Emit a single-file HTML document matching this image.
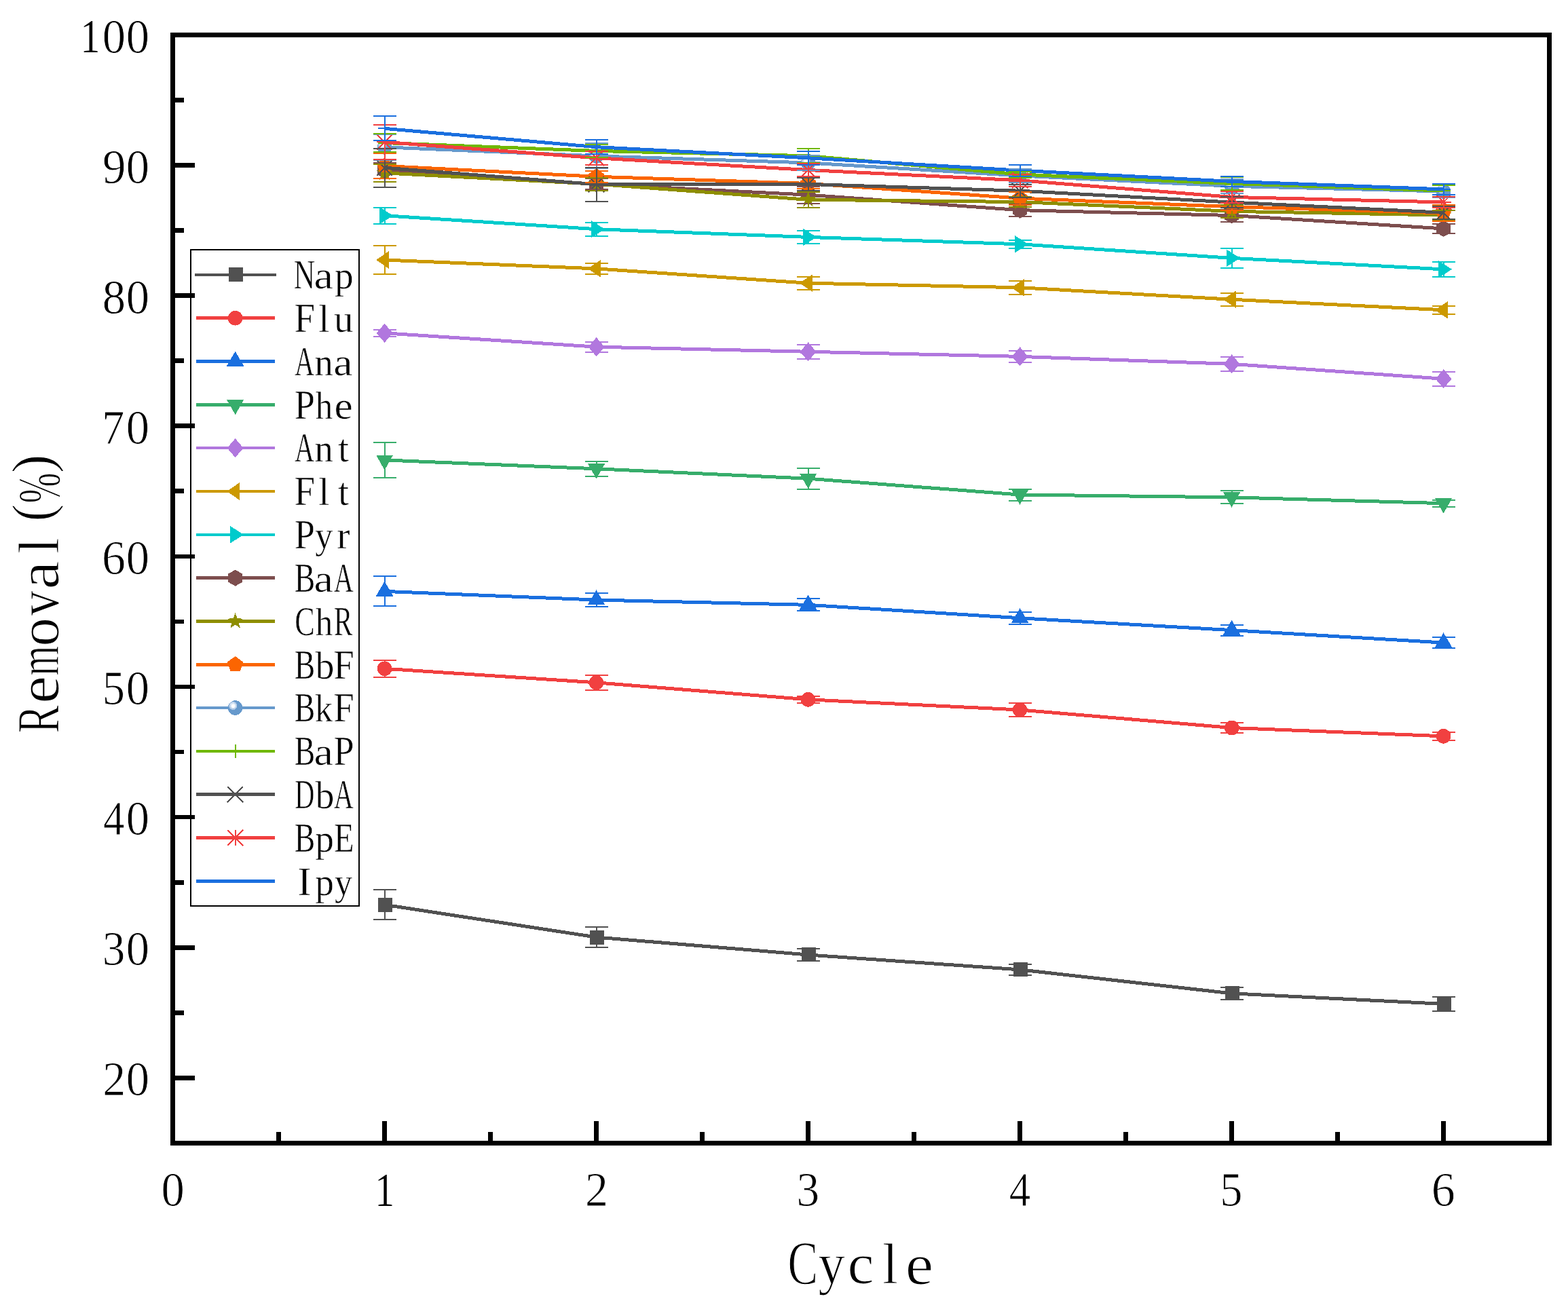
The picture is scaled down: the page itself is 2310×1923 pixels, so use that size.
<!DOCTYPE html>
<html><head><meta charset="utf-8"><title>Removal vs Cycle</title>
<style>html,body{margin:0;padding:0;background:#fff;overflow:hidden;}svg{display:block;}text{font-family:"Liberation Serif","Noto Serif CJK SC",serif;fill:#000;}</style></head><body>
<svg width="2310" height="1923" viewBox="0 0 2310 1923">
<rect width="2310" height="1923" fill="#fff"/>
<g shape-rendering="crispEdges">
<g><polyline points="566.6,1333.21 878.6,1381.04 1190.6,1406.98 1502.6,1428.88 1814.6,1463.84 2126.6,1479.4" stroke="#515151" stroke-width="5" fill="none" stroke-linejoin="round"/><rect x="557" y="1322.71" width="21" height="21" fill="#515151"/><rect x="869" y="1370.54" width="21" height="21" fill="#515151"/><rect x="1181" y="1396.48" width="21" height="21" fill="#515151"/><rect x="1493" y="1418.38" width="21" height="21" fill="#515151"/><rect x="1805" y="1453.34" width="21" height="21" fill="#515151"/><rect x="2117" y="1468.9" width="21" height="21" fill="#515151"/></g>
<g><polyline points="566.6,985.3 878.6,1005.85 1190.6,1030.83 1502.6,1046 1814.6,1072.51 2126.6,1084.81" stroke="#f14040" stroke-width="5" fill="none" stroke-linejoin="round"/><circle cx="566.6" cy="985.3" r="10.8" fill="#f14040"/><circle cx="878.6" cy="1005.85" r="10.8" fill="#f14040"/><circle cx="1190.6" cy="1030.83" r="10.8" fill="#f14040"/><circle cx="1502.6" cy="1046" r="10.8" fill="#f14040"/><circle cx="1814.6" cy="1072.51" r="10.8" fill="#f14040"/><circle cx="2126.6" cy="1084.81" r="10.8" fill="#f14040"/></g>
<g><polyline points="566.6,871.38 878.6,884.05 1190.6,891.35 1502.6,910.76 1814.6,928.62 2126.6,947.07" stroke="#1a6fdf" stroke-width="5" fill="none" stroke-linejoin="round"/><polygon points="566.6,856.58 579.6,878.78 553.6,878.78" fill="#1a6fdf"/><polygon points="878.6,869.25 891.6,891.45 865.6,891.45" fill="#1a6fdf"/><polygon points="1190.6,876.55 1203.6,898.75 1177.6,898.75" fill="#1a6fdf"/><polygon points="1502.6,895.96 1515.6,918.16 1489.6,918.16" fill="#1a6fdf"/><polygon points="1814.6,913.82 1827.6,936.02 1801.6,936.02" fill="#1a6fdf"/><polygon points="2126.6,932.27 2139.6,954.47 2113.6,954.47" fill="#1a6fdf"/></g>
<g><polyline points="566.6,677.92 878.6,690.79 1190.6,705.2 1502.6,729.02 1814.6,732.86 2126.6,741.7" stroke="#37ad6b" stroke-width="5" fill="none" stroke-linejoin="round"/><polygon points="566.6,692.72 579.2,670.52 554,670.52" fill="#37ad6b"/><polygon points="878.6,705.59 891.2,683.39 866,683.39" fill="#37ad6b"/><polygon points="1190.6,720 1203.2,697.8 1178,697.8" fill="#37ad6b"/><polygon points="1502.6,743.82 1515.2,721.62 1490,721.62" fill="#37ad6b"/><polygon points="1814.6,747.66 1827.2,725.46 1802,725.46" fill="#37ad6b"/><polygon points="2126.6,756.5 2139.2,734.3 2114,734.3" fill="#37ad6b"/></g>
<g><polyline points="566.6,490.81 878.6,511.17 1190.6,518.28 1502.6,525.39 1814.6,536.34 2126.6,558.24" stroke="#b177de" stroke-width="5" fill="none" stroke-linejoin="round"/><polygon points="566.6,476.81 578.6,490.81 566.6,504.81 554.6,490.81" fill="#b177de"/><polygon points="878.6,497.17 890.6,511.17 878.6,525.17 866.6,511.17" fill="#b177de"/><polygon points="1190.6,504.28 1202.6,518.28 1190.6,532.28 1178.6,518.28" fill="#b177de"/><polygon points="1502.6,511.39 1514.6,525.39 1502.6,539.39 1490.6,525.39" fill="#b177de"/><polygon points="1814.6,522.34 1826.6,536.34 1814.6,550.34 1802.6,536.34" fill="#b177de"/><polygon points="2126.6,544.24 2138.6,558.24 2126.6,572.24 2114.6,558.24" fill="#b177de"/></g>
<g><polyline points="566.6,383.03 878.6,395.9 1190.6,417.23 1502.6,423.76 1814.6,441.24 2126.6,456.8" stroke="#cc9900" stroke-width="5" fill="none" stroke-linejoin="round"/><polygon points="553.9,383.03 573.2,370.03 573.2,396.03" fill="#cc9900"/><polygon points="865.9,395.9 885.2,382.9 885.2,408.9" fill="#cc9900"/><polygon points="1177.9,417.23 1197.2,404.23 1197.2,430.23" fill="#cc9900"/><polygon points="1489.9,423.76 1509.2,410.76 1509.2,436.76" fill="#cc9900"/><polygon points="1801.9,441.24 1821.2,428.24 1821.2,454.24" fill="#cc9900"/><polygon points="2113.9,456.8 2133.2,443.8 2133.2,469.8" fill="#cc9900"/></g>
<g><polyline points="566.6,317.71 878.6,337.69 1190.6,349.41 1502.6,359.79 1814.6,380.34 2126.6,396.86" stroke="#00cbcc" stroke-width="5" fill="none" stroke-linejoin="round"/><polygon points="579.1,317.71 559.2,305.11 559.2,330.31" fill="#00cbcc"/><polygon points="891.1,337.69 871.2,325.09 871.2,350.29" fill="#00cbcc"/><polygon points="1203.1,349.41 1183.2,336.81 1183.2,362.01" fill="#00cbcc"/><polygon points="1515.1,359.79 1495.2,347.19 1495.2,372.39" fill="#00cbcc"/><polygon points="1827.1,380.34 1807.2,367.74 1807.2,392.94" fill="#00cbcc"/><polygon points="2139.1,396.86 2119.2,384.26 2119.2,409.46" fill="#00cbcc"/></g>
<g><polyline points="566.6,251.44 878.6,271.42 1190.6,287.17 1502.6,309.65 1814.6,317.52 2126.6,336.93" stroke="#7d4e4e" stroke-width="5" fill="none" stroke-linejoin="round"/><polygon points="566.6,239.44 577.1,245.44 577.1,257.44 566.6,263.44 556.1,257.44 556.1,245.44" fill="#7d4e4e"/><polygon points="878.6,259.42 889.1,265.42 889.1,277.42 878.6,283.42 868.1,277.42 868.1,265.42" fill="#7d4e4e"/><polygon points="1190.6,275.17 1201.1,281.17 1201.1,293.17 1190.6,299.17 1180.1,293.17 1180.1,281.17" fill="#7d4e4e"/><polygon points="1502.6,297.65 1513.1,303.65 1513.1,315.65 1502.6,321.65 1492.1,315.65 1492.1,303.65" fill="#7d4e4e"/><polygon points="1814.6,305.52 1825.1,311.52 1825.1,323.52 1814.6,329.52 1804.1,323.52 1804.1,311.52" fill="#7d4e4e"/><polygon points="2126.6,324.93 2137.1,330.93 2137.1,342.93 2126.6,348.93 2116.1,342.93 2116.1,330.93" fill="#7d4e4e"/></g>
<g><polyline points="566.6,254.89 878.6,271.22 1190.6,294.28 1502.6,297.54 1814.6,311.37 2126.6,316.95" stroke="#8e8e00" stroke-width="5" fill="none" stroke-linejoin="round"/><polygon points="566.6,242.29 569.54,250.85 578.58,251 571.36,256.44 574.01,265.09 566.6,259.89 559.19,265.09 561.84,256.44 554.62,251 563.66,250.85" fill="#8e8e00"/><polygon points="878.6,258.62 881.54,267.18 890.58,267.33 883.36,272.77 886.01,281.42 878.6,276.22 871.19,281.42 873.84,272.77 866.62,267.33 875.66,267.18" fill="#8e8e00"/><polygon points="1190.6,281.68 1193.54,290.23 1202.58,290.38 1195.36,295.82 1198.01,304.47 1190.6,299.28 1183.19,304.47 1185.84,295.82 1178.62,290.38 1187.66,290.23" fill="#8e8e00"/><polygon points="1502.6,284.94 1505.54,293.5 1514.58,293.65 1507.36,299.09 1510.01,307.74 1502.6,302.54 1495.19,307.74 1497.84,299.09 1490.62,293.65 1499.66,293.5" fill="#8e8e00"/><polygon points="1814.6,298.77 1817.54,307.33 1826.58,307.48 1819.36,312.92 1822.01,321.57 1814.6,316.37 1807.19,321.57 1809.84,312.92 1802.62,307.48 1811.66,307.33" fill="#8e8e00"/><polygon points="2126.6,304.35 2129.54,312.9 2138.58,313.05 2131.36,318.49 2134.01,327.14 2126.6,321.95 2119.19,327.14 2121.84,318.49 2114.62,313.05 2123.66,312.9" fill="#8e8e00"/></g>
<g><polyline points="566.6,244.52 878.6,260.27 1190.6,270.46 1502.6,292.16 1814.6,304.65 2126.6,313.87" stroke="#fb6501" stroke-width="5" fill="none" stroke-linejoin="round"/><polygon points="566.6,232.32 578.2,240.75 573.77,254.39 559.43,254.39 555,240.75" fill="#fb6501"/><polygon points="878.6,248.07 890.2,256.5 885.77,270.14 871.43,270.14 867,256.5" fill="#fb6501"/><polygon points="1190.6,258.26 1202.2,266.69 1197.77,280.33 1183.43,280.33 1179,266.69" fill="#fb6501"/><polygon points="1502.6,279.96 1514.2,288.39 1509.77,302.03 1495.43,302.03 1491,288.39" fill="#fb6501"/><polygon points="1814.6,292.45 1826.2,300.88 1821.77,314.52 1807.43,314.52 1803,300.88" fill="#fb6501"/><polygon points="2126.6,301.67 2138.2,310.1 2133.77,323.74 2119.43,323.74 2115,310.1" fill="#fb6501"/></g>
<g><polyline points="566.6,216.86 878.6,229.92 1190.6,239.91 1502.6,258.93 1814.6,274.3 2126.6,281.98" stroke="#6699cc" stroke-width="5" fill="none" stroke-linejoin="round"/><circle cx="566.6" cy="216.86" r="10.8" fill="#6699cc"/><circle cx="563.3" cy="213.56" r="6.2" fill="#adc7e5"/><circle cx="563.3" cy="213.56" r="4.6" fill="#d5e3f3"/><circle cx="563.6" cy="213.86" r="2.7" fill="#fbfdff"/><circle cx="878.6" cy="229.92" r="10.8" fill="#6699cc"/><circle cx="875.3" cy="226.62" r="6.2" fill="#adc7e5"/><circle cx="875.3" cy="226.62" r="4.6" fill="#d5e3f3"/><circle cx="875.6" cy="226.92" r="2.7" fill="#fbfdff"/><circle cx="1190.6" cy="239.91" r="10.8" fill="#6699cc"/><circle cx="1187.3" cy="236.61" r="6.2" fill="#adc7e5"/><circle cx="1187.3" cy="236.61" r="4.6" fill="#d5e3f3"/><circle cx="1187.6" cy="236.91" r="2.7" fill="#fbfdff"/><circle cx="1502.6" cy="258.93" r="10.8" fill="#6699cc"/><circle cx="1499.3" cy="255.63" r="6.2" fill="#adc7e5"/><circle cx="1499.3" cy="255.63" r="4.6" fill="#d5e3f3"/><circle cx="1499.6" cy="255.93" r="2.7" fill="#fbfdff"/><circle cx="1814.6" cy="274.3" r="10.8" fill="#6699cc"/><circle cx="1811.3" cy="271" r="6.2" fill="#adc7e5"/><circle cx="1811.3" cy="271" r="4.6" fill="#d5e3f3"/><circle cx="1811.6" cy="271.3" r="2.7" fill="#fbfdff"/><circle cx="2126.6" cy="281.98" r="10.8" fill="#6699cc"/><circle cx="2123.3" cy="278.68" r="6.2" fill="#adc7e5"/><circle cx="2123.3" cy="278.68" r="4.6" fill="#d5e3f3"/><circle cx="2123.6" cy="278.98" r="2.7" fill="#fbfdff"/></g>
<g><polyline points="566.6,210.52 878.6,222.43 1190.6,229.73 1502.6,257.01 1814.6,270.46 2126.6,281.02" stroke="#6fb802" stroke-width="5" fill="none" stroke-linejoin="round"/><path d="M556.6 210.52h20M566.6 200.52v20" stroke="#6fb802" stroke-width="2" fill="none"/><path d="M868.6 222.43h20M878.6 212.43v20" stroke="#6fb802" stroke-width="2" fill="none"/><path d="M1180.6 229.73h20M1190.6 219.73v20" stroke="#6fb802" stroke-width="2" fill="none"/><path d="M1492.6 257.01h20M1502.6 247.01v20" stroke="#6fb802" stroke-width="2" fill="none"/><path d="M1804.6 270.46h20M1814.6 260.46v20" stroke="#6fb802" stroke-width="2" fill="none"/><path d="M2116.6 281.02h20M2126.6 271.02v20" stroke="#6fb802" stroke-width="2" fill="none"/></g>
<g><polyline points="566.6,247.21 878.6,271.8 1190.6,271.42 1502.6,281.21 1814.6,298.12 2126.6,313.3" stroke="#515151" stroke-width="5" fill="none" stroke-linejoin="round"/><path d="M555.1 235.71l23 23M578.1 235.71l-23 23" stroke="#515151" stroke-width="2" fill="none"/><path d="M867.1 260.3l23 23M890.1 260.3l-23 23" stroke="#515151" stroke-width="2" fill="none"/><path d="M1179.1 259.92l23 23M1202.1 259.92l-23 23" stroke="#515151" stroke-width="2" fill="none"/><path d="M1491.1 269.71l23 23M1514.1 269.71l-23 23" stroke="#515151" stroke-width="2" fill="none"/><path d="M1803.1 286.62l23 23M1826.1 286.62l-23 23" stroke="#515151" stroke-width="2" fill="none"/><path d="M2115.1 301.8l23 23M2138.1 301.8l-23 23" stroke="#515151" stroke-width="2" fill="none"/></g>
<g><polyline points="566.6,209.36 878.6,232.8 1190.6,250.48 1502.6,265.84 1814.6,290.43 2126.6,297.93" stroke="#f14040" stroke-width="5" fill="none" stroke-linejoin="round"/><path d="M555.1 197.86l23 23M578.1 197.86l-23 23M566.6 197.86v23M555.1 209.36h23" stroke="#f14040" stroke-width="2" fill="none"/><path d="M867.1 221.3l23 23M890.1 221.3l-23 23M878.6 221.3v23M867.1 232.8h23" stroke="#f14040" stroke-width="2" fill="none"/><path d="M1179.1 238.98l23 23M1202.1 238.98l-23 23M1190.6 238.98v23M1179.1 250.48h23" stroke="#f14040" stroke-width="2" fill="none"/><path d="M1491.1 254.34l23 23M1514.1 254.34l-23 23M1502.6 254.34v23M1491.1 265.84h23" stroke="#f14040" stroke-width="2" fill="none"/><path d="M1803.1 278.93l23 23M1826.1 278.93l-23 23M1814.6 278.93v23M1803.1 290.43h23" stroke="#f14040" stroke-width="2" fill="none"/><path d="M2115.1 286.43l23 23M2138.1 286.43l-23 23M2126.6 286.43v23M2115.1 297.93h23" stroke="#f14040" stroke-width="2" fill="none"/></g>
<g><polyline points="566.6,189.38 878.6,216.66 1190.6,232.8 1502.6,251.24 1814.6,267.38 2126.6,278.91" stroke="#1a6fdf" stroke-width="5" fill="none" stroke-linejoin="round"/><path d="M556.6 189.38h20" stroke="#1a6fdf" stroke-width="1.8" fill="none"/><path d="M868.6 216.66h20" stroke="#1a6fdf" stroke-width="1.8" fill="none"/><path d="M1180.6 232.8h20" stroke="#1a6fdf" stroke-width="1.8" fill="none"/><path d="M1492.6 251.24h20" stroke="#1a6fdf" stroke-width="1.8" fill="none"/><path d="M1804.6 267.38h20" stroke="#1a6fdf" stroke-width="1.8" fill="none"/><path d="M2116.6 278.91h20" stroke="#1a6fdf" stroke-width="1.8" fill="none"/></g>
<path d="M566.6 1311.11V1355.31M549.6 1311.11h34M549.6 1355.31h34M878.6 1366.34V1395.74M861.6 1366.34h34M861.6 1395.74h34M1190.6 1397.98V1415.98M1173.6 1397.98h34M1173.6 1415.98h34M1502.6 1421.18V1436.58M1485.6 1421.18h34M1485.6 1436.58h34M1814.6 1455.14V1472.54M1797.6 1455.14h34M1797.6 1472.54h34M2126.6 1468.7V1490.1M2109.6 1468.7h34M2109.6 1490.1h34" stroke="#515151" stroke-width="2" fill="none"/>
<path d="M566.6 973V997.6M549.6 973h34M549.6 997.6h34M878.6 994.75V1016.95M861.6 994.75h34M861.6 1016.95h34M1190.6 1025.83V1035.83M1173.6 1025.83h34M1173.6 1035.83h34M1502.6 1035.9V1056.1M1485.6 1035.9h34M1485.6 1056.1h34M1814.6 1065.01V1080.01M1797.6 1065.01h34M1797.6 1080.01h34M2126.6 1078.81V1090.81M2109.6 1078.81h34M2109.6 1090.81h34" stroke="#f14040" stroke-width="2" fill="none"/>
<path d="M566.6 849.38V893.38M549.6 849.38h34M549.6 893.38h34M878.6 874.05V894.05M861.6 874.05h34M861.6 894.05h34M1190.6 882.35V900.35M1173.6 882.35h34M1173.6 900.35h34M1502.6 901.56V919.96M1485.6 901.56h34M1485.6 919.96h34M1814.6 920.62V936.62M1797.6 920.62h34M1797.6 936.62h34M2126.6 939.47V954.67M2109.6 939.47h34M2109.6 954.67h34" stroke="#1a6fdf" stroke-width="2" fill="none"/>
<path d="M566.6 652.32V703.52M549.6 652.32h34M549.6 703.52h34M878.6 679.89V701.69M861.6 679.89h34M861.6 701.69h34M1190.6 689.7V720.7M1173.6 689.7h34M1173.6 720.7h34M1502.6 720.52V737.52M1485.6 720.52h34M1485.6 737.52h34M1814.6 723.26V742.46M1797.6 723.26h34M1797.6 742.46h34M2126.6 736.7V746.7M2109.6 736.7h34M2109.6 746.7h34" stroke="#37ad6b" stroke-width="2" fill="none"/>
<path d="M566.6 485.81V495.81M549.6 485.81h34M549.6 495.81h34M878.6 503.57V518.77M861.6 503.57h34M861.6 518.77h34M1190.6 507.68V528.88M1173.6 507.68h34M1173.6 528.88h34M1502.6 516.89V533.89M1485.6 516.89h34M1485.6 533.89h34M1814.6 525.84V546.84M1797.6 525.84h34M1797.6 546.84h34M2126.6 547.64V568.84M2109.6 547.64h34M2109.6 568.84h34" stroke="#b177de" stroke-width="2" fill="none"/>
<path d="M566.6 362.03V404.03M549.6 362.03h34M549.6 404.03h34M878.6 388V403.8M861.6 388h34M861.6 403.8h34M1190.6 407.73V426.73M1173.6 407.73h34M1173.6 426.73h34M1502.6 413.76V433.76M1485.6 413.76h34M1485.6 433.76h34M1814.6 431.64V450.84M1797.6 431.64h34M1797.6 450.84h34M2126.6 450.8V462.8M2109.6 450.8h34M2109.6 462.8h34" stroke="#cc9900" stroke-width="2" fill="none"/>
<path d="M566.6 305.71V329.71M549.6 305.71h34M549.6 329.71h34M878.6 327.69V347.69M861.6 327.69h34M861.6 347.69h34M1190.6 339.91V358.91M1173.6 339.91h34M1173.6 358.91h34M1502.6 353.79V365.79M1485.6 353.79h34M1485.6 365.79h34M1814.6 365.84V394.84M1797.6 365.84h34M1797.6 394.84h34M2126.6 385.86V407.86M2109.6 385.86h34M2109.6 407.86h34" stroke="#00cbcc" stroke-width="2" fill="none"/>
<path d="M566.6 239.84V263.04M549.6 239.84h34M549.6 263.04h34M878.6 263.42V279.42M861.6 263.42h34M861.6 279.42h34M1190.6 274.67V299.67M1173.6 274.67h34M1173.6 299.67h34M1502.6 300.65V318.65M1485.6 300.65h34M1485.6 318.65h34M1814.6 308.52V326.52M1797.6 308.52h34M1797.6 326.52h34M2126.6 329.93V343.93M2109.6 329.93h34M2109.6 343.93h34" stroke="#7d4e4e" stroke-width="2" fill="none"/>
<path d="M566.6 241.89V267.89M549.6 241.89h34M549.6 267.89h34M878.6 261.72V280.72M861.6 261.72h34M861.6 280.72h34M1190.6 282.78V305.78M1173.6 282.78h34M1173.6 305.78h34M1502.6 290.04V305.04M1485.6 290.04h34M1485.6 305.04h34M1814.6 301.77V320.97M1797.6 301.77h34M1797.6 320.97h34M2126.6 309.95V323.95M2109.6 309.95h34M2109.6 323.95h34" stroke="#8e8e00" stroke-width="2" fill="none"/>
<path d="M566.6 225.92V263.12M549.6 225.92h34M549.6 263.12h34M878.6 251.77V268.77M861.6 251.77h34M861.6 268.77h34M1190.6 262.46V278.46M1173.6 262.46h34M1173.6 278.46h34M1502.6 282.66V301.66M1485.6 282.66h34M1485.6 301.66h34M1814.6 299.15V310.15M1797.6 299.15h34M1797.6 310.15h34M2126.6 301.87V325.87M2109.6 301.87h34M2109.6 325.87h34" stroke="#fb6501" stroke-width="2" fill="none"/>
<path d="M566.6 198.06V235.66M549.6 198.06h34M549.6 235.66h34M878.6 211.42V248.42M861.6 211.42h34M861.6 248.42h34M1190.6 228.91V250.91M1173.6 228.91h34M1173.6 250.91h34M1502.6 248.93V268.93M1485.6 248.93h34M1485.6 268.93h34M1814.6 263.8V284.8M1797.6 263.8h34M1797.6 284.8h34M2126.6 272.58V291.38M2109.6 272.58h34M2109.6 291.38h34" stroke="#6699cc" stroke-width="2" fill="none"/>
<path d="M566.6 197.12V223.92M549.6 197.12h34M549.6 223.92h34M878.6 212.93V231.93M861.6 212.93h34M861.6 231.93h34M1190.6 219.23V240.23M1173.6 219.23h34M1173.6 240.23h34M1502.6 252.51V261.51M1485.6 252.51h34M1485.6 261.51h34M1814.6 261.16V279.76M1797.6 261.16h34M1797.6 279.76h34M2126.6 272.52V289.52M2109.6 272.52h34M2109.6 289.52h34" stroke="#6fb802" stroke-width="2" fill="none"/>
<path d="M566.6 218.71V275.71M549.6 218.71h34M549.6 275.71h34M878.6 247V296.6M861.6 247h34M861.6 296.6h34M1190.6 261.92V280.92M1173.6 261.92h34M1173.6 280.92h34M1502.6 271.71V290.71M1485.6 271.71h34M1485.6 290.71h34M1814.6 290.12V306.12M1797.6 290.12h34M1797.6 306.12h34M2126.6 303.8V322.8M2109.6 303.8h34M2109.6 322.8h34" stroke="#515151" stroke-width="2" fill="none"/>
<path d="M566.6 183.76V234.96M549.6 183.76h34M549.6 234.96h34M878.6 222.8V242.8M861.6 222.8h34M861.6 242.8h34M1190.6 240.98V259.98M1173.6 240.98h34M1173.6 259.98h34M1502.6 256.84V274.84M1485.6 256.84h34M1485.6 274.84h34M1814.6 281.93V298.93M1797.6 281.93h34M1797.6 298.93h34M2126.6 290.03V305.83M2109.6 290.03h34M2109.6 305.83h34" stroke="#f14040" stroke-width="2" fill="none"/>
<path d="M566.6 171.38V207.38M549.6 171.38h34M549.6 207.38h34M878.6 206.16V227.16M861.6 206.16h34M861.6 227.16h34M1190.6 222.8V242.8M1173.6 222.8h34M1173.6 242.8h34M1502.6 242.74V259.74M1485.6 242.74h34M1485.6 259.74h34M1814.6 259.88V274.88M1797.6 259.88h34M1797.6 274.88h34M2126.6 270.91V286.91M2109.6 270.91h34M2109.6 286.91h34" stroke="#1a6fdf" stroke-width="2" fill="none"/>
</g>
<rect x="281" y="368" width="248" height="967" fill="#fff" stroke="#000" stroke-width="2" shape-rendering="crispEdges"/>
<g shape-rendering="crispEdges"><line x1="287" y1="404.9" x2="407" y2="404.9" stroke="#515151" stroke-width="4.6"/><rect x="337" y="394.4" width="21" height="21" fill="#515151"/></g>
<g><text transform="translate(448.6 425.19) scale(0.7228 1)" x="-21.95" font-size="60.31" stroke="#fff" stroke-width="0.59">N</text><text transform="translate(477.4 425.17) scale(1.1000 1)" x="-13.51" font-size="58.06" stroke="#fff" stroke-width="0.55">a</text><text transform="translate(506.2 425.16) scale(0.9570 1)" x="-13.83" font-size="57.98" stroke="#fff" stroke-width="0.51">p</text></g>
<g shape-rendering="crispEdges"><line x1="289" y1="468.72" x2="405" y2="468.72" stroke="#f14040" stroke-width="4.6"/><circle cx="346.6" cy="468.72" r="10.8" fill="#f14040"/></g>
<g><text transform="translate(448.6 488.98) scale(0.9120 1)" x="-16.52" font-size="60.21" stroke="#fff" stroke-width="0.52">F</text><text transform="translate(477.4 488.97) scale(1.0000 1)" x="-8.05" font-size="57.95" stroke="#fff" stroke-width="0.5">l</text><text transform="translate(506.2 488.97) scale(0.9807 1)" x="-14.38" font-size="57.96" stroke="#fff" stroke-width="0.5">u</text></g>
<g shape-rendering="crispEdges"><line x1="289" y1="532.54" x2="405" y2="532.54" stroke="#1a6fdf" stroke-width="4.6"/><polygon points="346.6,517.74 359.6,539.94 333.6,539.94" fill="#1a6fdf"/></g>
<g><text transform="translate(448.6 552.85) scale(0.6662 1)" x="-21.86" font-size="60.34" stroke="#fff" stroke-width="0.61">A</text><text transform="translate(477.4 552.8) scale(0.9428 1)" x="-14.72" font-size="57.99" stroke="#fff" stroke-width="0.51">n</text><text transform="translate(506.2 552.81) scale(1.1000 1)" x="-13.51" font-size="58.06" stroke="#fff" stroke-width="0.55">a</text></g>
<g shape-rendering="crispEdges"><line x1="289" y1="596.36" x2="405" y2="596.36" stroke="#37ad6b" stroke-width="4.6"/><polygon points="346.6,611.16 359.2,588.96 334,588.96" fill="#37ad6b"/></g>
<g><text transform="translate(448.6 616.62) scale(0.8995 1)" x="-16.41" font-size="60.21" stroke="#fff" stroke-width="0.53">P</text><text transform="translate(477.4 616.63) scale(0.8805 1)" x="-14.41" font-size="58.03" stroke="#fff" stroke-width="0.53">h</text><text transform="translate(506.2 616.62) scale(1.0588 1)" x="-13" font-size="58.02" stroke="#fff" stroke-width="0.53">e</text></g>
<g shape-rendering="crispEdges"><line x1="289" y1="660.18" x2="405" y2="660.18" stroke="#b177de" stroke-width="4.6"/><polygon points="346.6,646.18 358.6,660.18 346.6,674.18 334.6,660.18" fill="#b177de"/></g>
<g><text transform="translate(448.6 680.49) scale(0.6662 1)" x="-21.86" font-size="60.34" stroke="#fff" stroke-width="0.61">A</text><text transform="translate(477.4 680.44) scale(0.9428 1)" x="-14.72" font-size="57.99" stroke="#fff" stroke-width="0.51">n</text><text transform="translate(506.2 680.43) scale(1.0000 1)" x="-8.16" font-size="57.95" stroke="#fff" stroke-width="0.5">t</text></g>
<g shape-rendering="crispEdges"><line x1="289" y1="724" x2="405" y2="724" stroke="#cc9900" stroke-width="4.6"/><polygon points="333.9,724 353.2,711 353.2,737" fill="#cc9900"/></g>
<g><text transform="translate(448.6 744.26) scale(0.9120 1)" x="-16.52" font-size="60.21" stroke="#fff" stroke-width="0.52">F</text><text transform="translate(477.4 744.25) scale(1.0000 1)" x="-8.05" font-size="57.95" stroke="#fff" stroke-width="0.5">l</text><text transform="translate(506.2 744.25) scale(1.0000 1)" x="-8.16" font-size="57.95" stroke="#fff" stroke-width="0.5">t</text></g>
<g shape-rendering="crispEdges"><line x1="289" y1="787.82" x2="405" y2="787.82" stroke="#00cbcc" stroke-width="4.6"/><polygon points="359.1,787.82 339.2,775.22 339.2,800.42" fill="#00cbcc"/></g>
<g><text transform="translate(448.6 808.08) scale(0.8995 1)" x="-16.41" font-size="60.21" stroke="#fff" stroke-width="0.53">P</text><text transform="translate(477.4 808.08) scale(0.8992 1)" x="-14.74" font-size="58.01" stroke="#fff" stroke-width="0.53">y</text><text transform="translate(506.2 808.07) scale(1.0000 1)" x="-9.97" font-size="57.95" stroke="#fff" stroke-width="0.5">r</text></g>
<g shape-rendering="crispEdges"><line x1="289" y1="851.64" x2="405" y2="851.64" stroke="#7d4e4e" stroke-width="4.6"/><polygon points="346.6,839.64 357.1,845.64 357.1,857.64 346.6,863.64 336.1,857.64 336.1,845.64" fill="#7d4e4e"/></g>
<g><text transform="translate(448.6 871.93) scale(0.7580 1)" x="-19.5" font-size="60.29" stroke="#fff" stroke-width="0.57">B</text><text transform="translate(477.4 871.91) scale(1.1000 1)" x="-13.51" font-size="58.06" stroke="#fff" stroke-width="0.55">a</text><text transform="translate(506.2 871.95) scale(0.6662 1)" x="-21.86" font-size="60.34" stroke="#fff" stroke-width="0.61">A</text></g>
<g shape-rendering="crispEdges"><line x1="289" y1="915.46" x2="405" y2="915.46" stroke="#8e8e00" stroke-width="4.6"/><polygon points="346.6,902.86 349.54,911.41 358.58,911.57 351.36,917.01 354.01,925.65 346.6,920.46 339.19,925.65 341.84,917.01 334.62,911.57 343.66,911.41" fill="#8e8e00"/></g>
<g><text transform="translate(448.6 935.75) scale(0.7320 1)" x="-19.68" font-size="60.30" stroke="#fff" stroke-width="0.58">C</text><text transform="translate(477.4 935.73) scale(0.8805 1)" x="-14.41" font-size="58.03" stroke="#fff" stroke-width="0.53">h</text><text transform="translate(506.2 935.76) scale(0.6855 1)" x="-20.95" font-size="60.33" stroke="#fff" stroke-width="0.6">R</text></g>
<g shape-rendering="crispEdges"><line x1="289" y1="979.28" x2="405" y2="979.28" stroke="#fb6501" stroke-width="4.6"/><polygon points="346.6,967.08 358.2,975.51 353.77,989.15 339.43,989.15 335,975.51" fill="#fb6501"/></g>
<g><text transform="translate(448.6 999.57) scale(0.7580 1)" x="-19.5" font-size="60.29" stroke="#fff" stroke-width="0.57">B</text><text transform="translate(477.4 999.53) scale(0.9648 1)" x="-13.39" font-size="57.97" stroke="#fff" stroke-width="0.51">b</text><text transform="translate(506.2 999.54) scale(0.9120 1)" x="-16.52" font-size="60.21" stroke="#fff" stroke-width="0.52">F</text></g>
<g shape-rendering="crispEdges"><line x1="289" y1="1043.1" x2="405" y2="1043.1" stroke="#6699cc" stroke-width="4.6"/><circle cx="346.6" cy="1043.1" r="10.8" fill="#6699cc"/><circle cx="343.3" cy="1039.8" r="6.2" fill="#adc7e5"/><circle cx="343.3" cy="1039.8" r="4.6" fill="#d5e3f3"/><circle cx="343.6" cy="1040.1" r="2.7" fill="#fbfdff"/></g>
<g><text transform="translate(448.6 1063.39) scale(0.7580 1)" x="-19.5" font-size="60.29" stroke="#fff" stroke-width="0.57">B</text><text transform="translate(477.4 1063.36) scale(0.9048 1)" x="-15.05" font-size="58.01" stroke="#fff" stroke-width="0.53">k</text><text transform="translate(506.2 1063.36) scale(0.9120 1)" x="-16.52" font-size="60.21" stroke="#fff" stroke-width="0.52">F</text></g>
<g shape-rendering="crispEdges"><line x1="289" y1="1106.92" x2="405" y2="1106.92" stroke="#6fb802" stroke-width="4.6"/><path d="M336.6 1106.92h20M346.6 1096.92v20" stroke="#6fb802" stroke-width="2" fill="none"/></g>
<g><text transform="translate(448.6 1127.21) scale(0.7580 1)" x="-19.5" font-size="60.29" stroke="#fff" stroke-width="0.57">B</text><text transform="translate(477.4 1127.2) scale(1.1000 1)" x="-13.51" font-size="58.06" stroke="#fff" stroke-width="0.55">a</text><text transform="translate(506.2 1127.18) scale(0.8995 1)" x="-16.41" font-size="60.21" stroke="#fff" stroke-width="0.53">P</text></g>
<g shape-rendering="crispEdges"><line x1="289" y1="1170.74" x2="405" y2="1170.74" stroke="#515151" stroke-width="4.6"/><path d="M335.1 1159.24l23 23M358.1 1159.24l-23 23" stroke="#515151" stroke-width="2" fill="none"/></g>
<g><text transform="translate(448.6 1191.05) scale(0.6678 1)" x="-21.45" font-size="60.34" stroke="#fff" stroke-width="0.61">D</text><text transform="translate(477.4 1190.99) scale(0.9648 1)" x="-13.39" font-size="57.97" stroke="#fff" stroke-width="0.51">b</text><text transform="translate(506.2 1191.05) scale(0.6662 1)" x="-21.86" font-size="60.34" stroke="#fff" stroke-width="0.61">A</text></g>
<g shape-rendering="crispEdges"><line x1="289" y1="1234.56" x2="405" y2="1234.56" stroke="#f14040" stroke-width="4.6"/><path d="M335.1 1223.06l23 23M358.1 1223.06l-23 23M346.6 1223.06v23M335.1 1234.56h23" stroke="#f14040" stroke-width="2" fill="none"/></g>
<g><text transform="translate(448.6 1254.85) scale(0.7580 1)" x="-19.5" font-size="60.29" stroke="#fff" stroke-width="0.57">B</text><text transform="translate(477.4 1254.82) scale(0.9570 1)" x="-13.83" font-size="57.98" stroke="#fff" stroke-width="0.51">p</text><text transform="translate(506.2 1254.84) scale(0.8042 1)" x="-17.77" font-size="60.26" stroke="#fff" stroke-width="0.56">E</text></g>
<g shape-rendering="crispEdges"><line x1="289" y1="1298.38" x2="405" y2="1298.38" stroke="#1a6fdf" stroke-width="4.6"/><path d="M336.6 1298.38h20" stroke="#1a6fdf" stroke-width="1.8" fill="none"/></g>
<g><text transform="translate(448.6 1318.63) scale(1.0000 1)" x="-10.05" font-size="60.17" stroke="#fff" stroke-width="0.5">I</text><text transform="translate(477.4 1318.64) scale(0.9570 1)" x="-13.83" font-size="57.98" stroke="#fff" stroke-width="0.51">p</text><text transform="translate(506.2 1318.64) scale(0.8992 1)" x="-14.74" font-size="58.01" stroke="#fff" stroke-width="0.53">y</text></g>
<g stroke="#000" stroke-width="6.7" fill="none" shape-rendering="crispEdges">
<rect x="254.5" y="51.45" width="2028" height="1632.95"/>
<path d="M254.5 1588.33H287.3M254.5 1396.22H287.3M254.5 1204.11H287.3M254.5 1012H287.3M254.5 819.89H287.3M254.5 627.78H287.3M254.5 435.67H287.3M254.5 243.56H287.3M254.5 51.45H287.3M254.5 1492.27H271M254.5 1300.16H271M254.5 1108.06H271M254.5 915.94H271M254.5 723.84H271M254.5 531.73H271M254.5 339.61H271M254.5 147.5H271M566.6 1684.4V1652.3M878.6 1684.4V1652.3M1190.6 1684.4V1652.3M1502.6 1684.4V1652.3M1814.6 1684.4V1652.3M2126.6 1684.4V1652.3M410.6 1684.4V1668.3M722.6 1684.4V1668.3M1034.6 1684.4V1668.3M1346.6 1684.4V1668.3M1658.6 1684.4V1668.3M1970.6 1684.4V1668.3M2282.6 1684.4V1668.3"/>
</g>
<g><text transform="translate(167.9 1614.44) scale(0.9564 1)" x="-17.33" font-size="70.90" stroke="#fff" stroke-width="0.82">2</text><text transform="translate(203 1614.44) scale(0.9681 1)" x="-17.72" font-size="70.89" stroke="#fff" stroke-width="0.81">0</text><text transform="translate(167.9 1422.33) scale(0.9484 1)" x="-18.04" font-size="70.90" stroke="#fff" stroke-width="0.82">3</text><text transform="translate(203 1422.33) scale(0.9681 1)" x="-17.72" font-size="70.89" stroke="#fff" stroke-width="0.81">0</text><text transform="translate(167.9 1230.23) scale(0.8870 1)" x="-17.88" font-size="70.95" stroke="#fff" stroke-width="0.85">4</text><text transform="translate(203 1230.22) scale(0.9681 1)" x="-17.72" font-size="70.89" stroke="#fff" stroke-width="0.81">0</text><text transform="translate(167.9 1038.11) scale(0.9373 1)" x="-18.4" font-size="70.91" stroke="#fff" stroke-width="0.83">5</text><text transform="translate(203 1038.11) scale(0.9681 1)" x="-17.72" font-size="70.89" stroke="#fff" stroke-width="0.81">0</text><text transform="translate(167.9 845.99) scale(0.9872 1)" x="-18.19" font-size="70.88" stroke="#fff" stroke-width="0.81">6</text><text transform="translate(203 846) scale(0.9681 1)" x="-17.72" font-size="70.89" stroke="#fff" stroke-width="0.81">0</text><text transform="translate(167.9 653.89) scale(0.9315 1)" x="-19.04" font-size="70.92" stroke="#fff" stroke-width="0.83">7</text><text transform="translate(203 653.89) scale(0.9681 1)" x="-17.72" font-size="70.89" stroke="#fff" stroke-width="0.81">0</text><text transform="translate(167.9 461.78) scale(0.9681 1)" x="-17.72" font-size="70.89" stroke="#fff" stroke-width="0.81">8</text><text transform="translate(203 461.78) scale(0.9681 1)" x="-17.72" font-size="70.89" stroke="#fff" stroke-width="0.81">0</text><text transform="translate(167.9 269.67) scale(0.9714 1)" x="-17.41" font-size="70.89" stroke="#fff" stroke-width="0.81">9</text><text transform="translate(203 269.67) scale(0.9681 1)" x="-17.72" font-size="70.89" stroke="#fff" stroke-width="0.81">0</text><text transform="translate(133.8 77.26) scale(0.8272 1)" x="-18.47" font-size="69.99" stroke="#fff" stroke-width="0.22">1</text><text transform="translate(167.9 77.56) scale(0.9681 1)" x="-17.72" font-size="70.89" stroke="#fff" stroke-width="0.81">0</text><text transform="translate(203 77.56) scale(0.9681 1)" x="-17.72" font-size="70.89" stroke="#fff" stroke-width="0.81">0</text><text transform="translate(254.6 1777.41) scale(0.9681 1)" x="-17.72" font-size="70.89" stroke="#fff" stroke-width="0.81">0</text><text transform="translate(567.6 1777.11) scale(0.8272 1)" x="-18.47" font-size="69.99" stroke="#fff" stroke-width="0.22">1</text><text transform="translate(878.6 1777.41) scale(0.9564 1)" x="-17.33" font-size="70.90" stroke="#fff" stroke-width="0.82">2</text><text transform="translate(1190.6 1777.41) scale(0.9484 1)" x="-18.04" font-size="70.90" stroke="#fff" stroke-width="0.82">3</text><text transform="translate(1502.6 1777.42) scale(0.8870 1)" x="-17.88" font-size="70.95" stroke="#fff" stroke-width="0.85">4</text><text transform="translate(1814.6 1777.41) scale(0.9373 1)" x="-18.4" font-size="70.91" stroke="#fff" stroke-width="0.83">5</text><text transform="translate(2126.6 1777.4) scale(0.9872 1)" x="-18.19" font-size="70.88" stroke="#fff" stroke-width="0.81">6</text></g>
<g><text transform="translate(1182.3 1891.54) scale(0.7380 1)" x="-29.45" font-size="90.23" stroke="#fff" stroke-width="1.28">C</text><text transform="translate(1225.4 1891.47) scale(0.9287 1)" x="-21.56" font-size="84.84" stroke="#fff" stroke-width="1.14">y</text><text transform="translate(1268.5 1891.47) scale(1.0398 1)" x="-19.14" font-size="84.85" stroke="#fff" stroke-width="1.14">c</text><text transform="translate(1311.6 1891.45) scale(1.0000 1)" x="-11.77" font-size="84.75" stroke="#fff" stroke-width="1.1">l</text><text transform="translate(1354.7 1891.5) scale(1.0972 1)" x="-19.05" font-size="84.99" stroke="#fff" stroke-width="1.21">e</text></g>
<g><text transform="translate(86.46 1058.9) rotate(-90) scale(0.6954 1)" x="-30.71" font-size="88.46" stroke="#fff" stroke-width="1.32">R</text><text transform="translate(86.39 1016.3) rotate(-90) scale(1.0703 1)" x="-19.23" font-size="85.79" stroke="#fff" stroke-width="1.18">e</text><text transform="translate(86.48 973.4) rotate(-90) scale(0.6594 1)" x="-33.75" font-size="86.18" stroke="#fff" stroke-width="1.35">m</text><text transform="translate(86.35 931.4) rotate(-90) scale(0.9904 1)" x="-21.41" font-size="85.64" stroke="#fff" stroke-width="1.11">o</text><text transform="translate(86.39 889) rotate(-90) scale(0.8557 1)" x="-21.45" font-size="85.82" stroke="#fff" stroke-width="1.19">v</text><text transform="translate(86.41 846.5) rotate(-90) scale(1.1000 1)" x="-19.98" font-size="85.86" stroke="#fff" stroke-width="1.21">a</text><text transform="translate(86.35 804) rotate(-90) scale(1.0000 1)" x="-11.89" font-size="85.62" stroke="#fff" stroke-width="1.1">l</text><text transform="translate(76.37 755) rotate(-90) scale(0.9276 1)" x="-14.44" font-size="83.78" stroke="#fff" stroke-width="1.14">(</text><text transform="translate(86.51 719.1) rotate(-90) scale(0.6060 1)" x="-36.9" font-size="88.60" stroke="#fff" stroke-width="1.41">%</text><text transform="translate(76.35 683.9) rotate(-90) scale(0.9903 1)" x="-13.45" font-size="83.72" stroke="#fff" stroke-width="1.11">)</text></g>
</svg></body></html>
